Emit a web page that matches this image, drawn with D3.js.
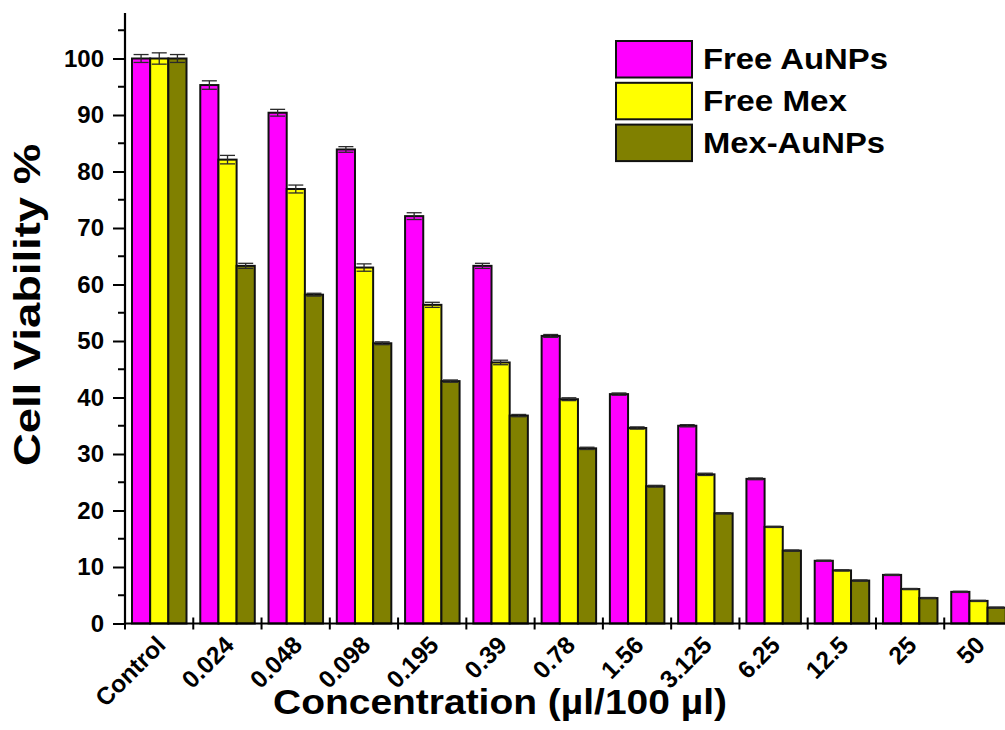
<!DOCTYPE html>
<html>
<head>
<meta charset="utf-8">
<script src="https://cdn.jsdelivr.net/npm/d3@7/dist/d3.min.js"></script>
<style>
  html, body { margin: 0; padding: 0; background: #ffffff; }
  svg { display: block; }
  text { font-family: "Liberation Sans", Arial, Helvetica, sans-serif; font-weight: bold; fill: #000; }
</style>
</head>
<body>
<svg id="chart" width="1005" height="730"></svg>
<script>
// Concentrations tested (µl/100 µl)
const categories = ["Control", "0.024", "0.048", "0.098", "0.195", "0.39", "0.78", "1.56", "3.125", "6.25", "12.5", "25", "50"];

// Treatment series
const seriesNames = ["Free AuNPs", "Free Mex", "Mex-AuNPs"];
const seriesColors = ["#ff00ff", "#ffff00", "#808000"];

// Mean cell viability (%)
const freeAuNPs = [100, 95.3, 90.4, 83.9, 72.1, 63.3, 50.9, 40.6, 35.0, 25.6, 11.1, 8.6, 5.6];
const freeMex   = [100, 82.1, 76.9, 63.0, 56.4, 46.2, 39.7, 34.6, 26.4, 17.1, 9.4, 6.1, 4.0];
const mexAuNPs  = [100, 63.3, 58.2, 49.6, 42.9, 36.8, 31.0, 24.3, 19.5, 12.9, 7.6, 4.5, 2.8];

// Standard deviations
const freeAuNPsErr = [0.7, 0.75, 0.6, 0.5, 0.6, 0.45, 0.25, 0.2, 0.2, 0.15, 0.1, 0.1, 0.1];
const freeMexErr   = [1.0, 0.75, 0.7, 0.65, 0.45, 0.4, 0.25, 0.2, 0.2, 0.1, 0.1, 0.1, 0.1];
const mexAuNPsErr  = [0.7, 0.45, 0.25, 0.25, 0.2, 0.2, 0.2, 0.15, 0.1, 0.1, 0.1, 0.1, 0.1];

// Y axis ticks
const yMajorTicks = [0, 10, 20, 30, 40, 50, 60, 70, 80, 90, 100];
const yMinorTicks = [5, 15, 25, 35, 45, 55, 65, 75, 85, 95, 105];

const seriesValues = [freeAuNPs, freeMex, mexAuNPs];
const seriesErrors = [freeAuNPsErr, freeMexErr, mexAuNPsErr];

const rows = [];
categories.forEach((c, i) => {
  seriesNames.forEach((s, j) => {
    rows.push({ cat: c, series: s, idx: j, value: seriesValues[j][i], err: seriesErrors[j][i] });
  });
});

const svg = d3.select("#chart");
const x0 = 125, step = 68.27, yBase = 623.5;

const x = d3.scaleBand().domain(categories).range([x0, x0 + step * categories.length]).padding(0);
const xs = d3.scaleBand().domain(seriesNames).range([7, 61.5]).padding(0);
const y = d3.scaleLinear().domain([0, 108]).range([yBase, yBase - 108 * 5.65]);

// Bars
const bars = svg.append("g");
bars.selectAll("rect").data(rows).join("rect")
  .attr("x", d => x(d.cat) + xs(d.series))
  .attr("y", d => y(d.value))
  .attr("width", xs.bandwidth())
  .attr("height", d => y(0) - y(d.value))
  .attr("fill", d => seriesColors[d.idx])
  .attr("stroke", "#111")
  .attr("stroke-width", 2);

// Error bars
const capW = 15;
const eb = svg.append("g").attr("stroke", "#2a2a2a").attr("stroke-width", 1.3);
rows.forEach(d => {
  const cx = x(d.cat) + xs(d.series) + xs.bandwidth() / 2;
  const y1 = y(d.value + d.err), y2 = y(d.value - d.err);
  eb.append("line").attr("x1", cx).attr("x2", cx).attr("y1", y1).attr("y2", y2);
  eb.append("line").attr("x1", cx - capW / 2).attr("x2", cx + capW / 2).attr("y1", y1).attr("y2", y1);
  eb.append("line").attr("x1", cx - capW / 2).attr("x2", cx + capW / 2).attr("y1", y2).attr("y2", y2);
});

// Y axis
const yAxisG = svg.append("g").attr("transform", `translate(${x0},0)`);
yAxisG.call(d3.axisLeft(y).tickValues(yMajorTicks).tickSize(12).tickPadding(9).tickFormat(d3.format("d")));
yAxisG.select(".domain").remove();
yAxisG.selectAll(".tick line").attr("stroke", "#000").attr("stroke-width", 2);
yAxisG.selectAll(".tick text").attr("font-size", 24).attr("font-family", null).attr("font-weight", "bold");
yAxisG.selectAll(".minor").data(yMinorTicks).join("line")
  .attr("class", "minor")
  .attr("x1", -7).attr("x2", 0)
  .attr("y1", d => y(d)).attr("y2", d => y(d))
  .attr("stroke", "#000").attr("stroke-width", 2);
svg.append("line").attr("x1", x0).attr("x2", x0).attr("y1", yBase + 1).attr("y2", 13)
  .attr("stroke", "#000").attr("stroke-width", 2.2);

// X axis
const boundaries = d3.range(categories.length).map(i => x(categories[i]));
svg.append("line").attr("x1", x0).attr("x2", 1005).attr("y1", yBase).attr("y2", yBase)
  .attr("stroke", "#000").attr("stroke-width", 2.2);
svg.append("g").selectAll("line").data(boundaries).join("line")
  .attr("x1", d => d).attr("x2", d => d)
  .attr("y1", yBase - 6).attr("y2", yBase + 6)
  .attr("stroke", "#000").attr("stroke-width", 2);

svg.append("g").selectAll("text").data(categories).join("text")
  .attr("transform", d => `translate(${x(d) + x.bandwidth() / 2 + 8},${yBase + 23}) rotate(-45)`)
  .attr("text-anchor", "end")
  .attr("font-size", 24.5)
  .text(d => d);

// Axis titles
svg.append("text")
  .attr("x", 500).attr("y", 714)
  .attr("text-anchor", "middle")
  .attr("font-size", 35)
  .attr("textLength", 454).attr("lengthAdjust", "spacingAndGlyphs")
  .text("Concentration (µl/100 µl)");

svg.append("text")
  .attr("transform", "translate(40,305) rotate(-90)")
  .attr("text-anchor", "middle")
  .attr("font-size", 37)
  .attr("textLength", 322).attr("lengthAdjust", "spacingAndGlyphs")
  .text("Cell Viability %");

// Legend
const legendWidths = [185, 144, 182];
const legend = svg.append("g");
seriesNames.forEach((s, j) => {
  const top = 41 + j * 41.8;
  legend.append("rect")
    .attr("x", 616).attr("y", top).attr("width", 76).attr("height", 36.5)
    .attr("fill", seriesColors[j]).attr("stroke", "#111").attr("stroke-width", 2);
  legend.append("text")
    .attr("x", 703).attr("y", top + 28)
    .attr("font-size", 29)
    .attr("textLength", legendWidths[j]).attr("lengthAdjust", "spacingAndGlyphs")
    .text(s);
});
</script>
</body>
</html>
